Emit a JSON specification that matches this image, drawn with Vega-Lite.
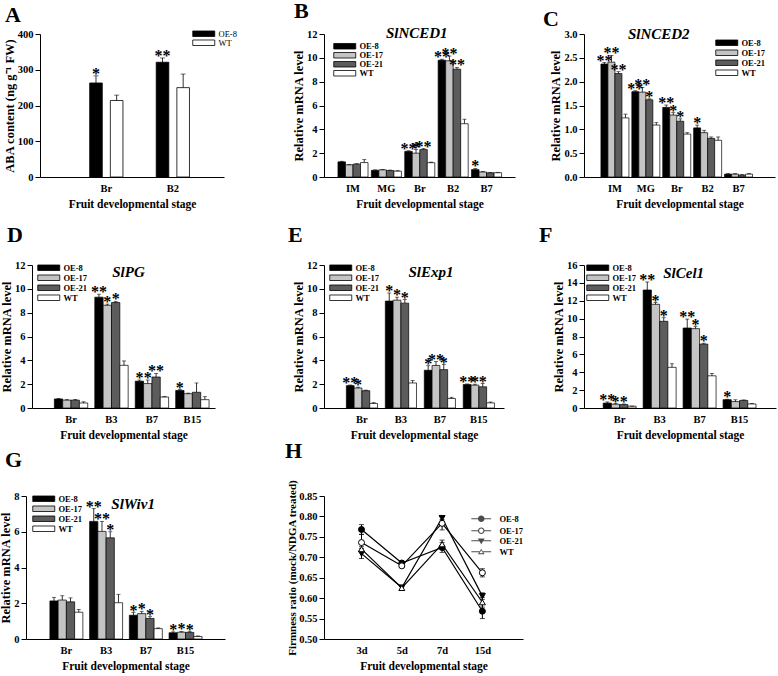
{
  "$schema": "https://vega.github.io/schema/vega-lite/v6.json",
  "padding": {"left": -1, "top": 0, "right": 2, "bottom": 2},
  "background": "white",
  "config": {
    "font": "Liberation Serif",
    "view": {"stroke": null},
    "axis": {"domainColor": "black", "tickColor": "black", "labelColor": "black", "titleColor": "black", "labelFont": "Liberation Serif", "titleFont": "Liberation Serif", "labelFontWeight": "bold", "titleFontWeight": "bold", "labelFontSize": 10.5, "titleFontSize": 12.5, "grid": false, "domainWidth": 1, "tickWidth": 1, "labelOverlap": false},
    "axisX": {"ticks": false, "labelAngle": 0, "labelPadding": 6, "titlePadding": 5, "titleFontSize": 11.5},
    "axisY": {"tickSize": 5, "labelPadding": 2, "titlePadding": 1, "labelOverlap": false, "tickCount": 20},
    "title": {"font": "Liberation Serif", "fontSize": 22, "fontWeight": "bold", "anchor": "start", "frame": "group", "color": "black", "baseline": "alphabetic"},
    "legend": {"orient": "none", "labelFont": "Liberation Serif", "labelFontSize": 8.5, "labelFontWeight": "bold", "labelColor": "black", "padding": 0, "rowPadding": 0, "symbolStrokeColor": "black", "symbolStrokeWidth": 0.8}
  },
  "datasets": {
    "A": [
      {"stage": "Br", "line": "OE-8", "value": 263, "hi": 283, "sig": "*"},
      {"stage": "Br", "line": "WT", "value": 214, "hi": 229, "sig": ""},
      {"stage": "B2", "line": "OE-8", "value": 321, "hi": 333, "sig": "**"},
      {"stage": "B2", "line": "WT", "value": 250, "hi": 288, "sig": ""}
    ],
    "B": [
      {"stage": "IM", "line": "OE-8", "value": 1.27, "hi": 1.32, "sig": ""},
      {"stage": "IM", "line": "OE-17", "value": 1.02, "hi": 1.06, "sig": ""},
      {"stage": "IM", "line": "OE-21", "value": 1.08, "hi": 1.12, "sig": ""},
      {"stage": "IM", "line": "WT", "value": 1.21, "hi": 1.46, "sig": ""},
      {"stage": "MG", "line": "OE-8", "value": 0.56, "hi": 0.6, "sig": ""},
      {"stage": "MG", "line": "OE-17", "value": 0.6, "hi": 0.64, "sig": ""},
      {"stage": "MG", "line": "OE-21", "value": 0.54, "hi": 0.58, "sig": ""},
      {"stage": "MG", "line": "WT", "value": 0.49, "hi": 0.53, "sig": ""},
      {"stage": "Br", "line": "OE-8", "value": 2.15, "hi": 2.2, "sig": "**"},
      {"stage": "Br", "line": "OE-17", "value": 2.0, "hi": 2.3, "sig": "*"},
      {"stage": "Br", "line": "OE-21", "value": 2.3, "hi": 2.38, "sig": "**"},
      {"stage": "Br", "line": "WT", "value": 1.2, "hi": 1.25, "sig": ""},
      {"stage": "B2", "line": "OE-8", "value": 9.8, "hi": 9.88, "sig": "**"},
      {"stage": "B2", "line": "OE-17", "value": 9.75, "hi": 10.15, "sig": "**"},
      {"stage": "B2", "line": "OE-21", "value": 9.05, "hi": 9.2, "sig": "**"},
      {"stage": "B2", "line": "WT", "value": 4.47, "hi": 4.85, "sig": ""},
      {"stage": "B7", "line": "OE-8", "value": 0.62, "hi": 0.72, "sig": "*"},
      {"stage": "B7", "line": "OE-17", "value": 0.42, "hi": 0.46, "sig": ""},
      {"stage": "B7", "line": "OE-21", "value": 0.35, "hi": 0.38, "sig": ""},
      {"stage": "B7", "line": "WT", "value": 0.36, "hi": 0.39, "sig": ""}
    ],
    "C": [
      {"stage": "IM", "line": "OE-8", "value": 2.37, "hi": 2.4, "sig": "**"},
      {"stage": "IM", "line": "OE-17", "value": 2.41, "hi": 2.55, "sig": "**"},
      {"stage": "IM", "line": "OE-21", "value": 2.17, "hi": 2.21, "sig": "**"},
      {"stage": "IM", "line": "WT", "value": 1.24, "hi": 1.32, "sig": ""},
      {"stage": "MG", "line": "OE-8", "value": 1.79, "hi": 1.81, "sig": "**"},
      {"stage": "MG", "line": "OE-17", "value": 1.78, "hi": 1.88, "sig": "**"},
      {"stage": "MG", "line": "OE-21", "value": 1.62, "hi": 1.64, "sig": "*"},
      {"stage": "MG", "line": "WT", "value": 1.09, "hi": 1.14, "sig": ""},
      {"stage": "Br", "line": "OE-8", "value": 1.46, "hi": 1.51, "sig": "**"},
      {"stage": "Br", "line": "OE-17", "value": 1.3, "hi": 1.35, "sig": "*"},
      {"stage": "Br", "line": "OE-21", "value": 1.17, "hi": 1.22, "sig": "*"},
      {"stage": "Br", "line": "WT", "value": 0.9, "hi": 0.93, "sig": ""},
      {"stage": "B2", "line": "OE-8", "value": 1.03, "hi": 1.09, "sig": "*"},
      {"stage": "B2", "line": "OE-17", "value": 0.93, "hi": 0.98, "sig": ""},
      {"stage": "B2", "line": "OE-21", "value": 0.81, "hi": 0.84, "sig": ""},
      {"stage": "B2", "line": "WT", "value": 0.77, "hi": 0.84, "sig": ""},
      {"stage": "B7", "line": "OE-8", "value": 0.06, "hi": 0.07, "sig": ""},
      {"stage": "B7", "line": "OE-17", "value": 0.06, "hi": 0.07, "sig": ""},
      {"stage": "B7", "line": "OE-21", "value": 0.04, "hi": 0.05, "sig": ""},
      {"stage": "B7", "line": "WT", "value": 0.06, "hi": 0.07, "sig": ""}
    ],
    "D": [
      {"stage": "Br", "line": "OE-8", "value": 0.76, "hi": 0.8, "sig": ""},
      {"stage": "Br", "line": "OE-17", "value": 0.66, "hi": 0.7, "sig": ""},
      {"stage": "Br", "line": "OE-21", "value": 0.66, "hi": 0.72, "sig": ""},
      {"stage": "Br", "line": "WT", "value": 0.42, "hi": 0.52, "sig": ""},
      {"stage": "B3", "line": "OE-8", "value": 9.3, "hi": 9.55, "sig": "**"},
      {"stage": "B3", "line": "OE-17", "value": 8.62, "hi": 8.72, "sig": "*"},
      {"stage": "B3", "line": "OE-21", "value": 8.85, "hi": 8.95, "sig": "*"},
      {"stage": "B3", "line": "WT", "value": 3.58, "hi": 3.95, "sig": ""},
      {"stage": "B7", "line": "OE-8", "value": 2.25, "hi": 2.35, "sig": "*"},
      {"stage": "B7", "line": "OE-17", "value": 2.05, "hi": 2.35, "sig": "*"},
      {"stage": "B7", "line": "OE-21", "value": 2.6, "hi": 2.9, "sig": "**"},
      {"stage": "B7", "line": "WT", "value": 0.92, "hi": 0.96, "sig": ""},
      {"stage": "B15", "line": "OE-8", "value": 1.47, "hi": 1.55, "sig": "*"},
      {"stage": "B15", "line": "OE-17", "value": 1.2, "hi": 1.25, "sig": ""},
      {"stage": "B15", "line": "OE-21", "value": 1.32, "hi": 2.1, "sig": ""},
      {"stage": "B15", "line": "WT", "value": 0.7, "hi": 0.95, "sig": ""}
    ],
    "E": [
      {"stage": "Br", "line": "OE-8", "value": 1.88, "hi": 1.93, "sig": "**"},
      {"stage": "Br", "line": "OE-17", "value": 1.68, "hi": 1.75, "sig": "*"},
      {"stage": "Br", "line": "OE-21", "value": 1.45, "hi": 1.5, "sig": ""},
      {"stage": "Br", "line": "WT", "value": 0.38, "hi": 0.45, "sig": ""},
      {"stage": "B3", "line": "OE-8", "value": 8.97, "hi": 9.65, "sig": "*"},
      {"stage": "B3", "line": "OE-17", "value": 9.05, "hi": 9.3, "sig": "*"},
      {"stage": "B3", "line": "OE-21", "value": 8.8, "hi": 9.1, "sig": "*"},
      {"stage": "B3", "line": "WT", "value": 2.1, "hi": 2.3, "sig": ""},
      {"stage": "B7", "line": "OE-8", "value": 3.17, "hi": 3.55, "sig": "*"},
      {"stage": "B7", "line": "OE-17", "value": 3.57, "hi": 3.9, "sig": "**"},
      {"stage": "B7", "line": "OE-21", "value": 3.22, "hi": 3.65, "sig": "*"},
      {"stage": "B7", "line": "WT", "value": 0.8, "hi": 0.9, "sig": ""},
      {"stage": "B15", "line": "OE-8", "value": 1.97, "hi": 2.02, "sig": "**"},
      {"stage": "B15", "line": "OE-17", "value": 1.92, "hi": 2.0, "sig": "*"},
      {"stage": "B15", "line": "OE-21", "value": 1.78, "hi": 2.05, "sig": "*"},
      {"stage": "B15", "line": "WT", "value": 0.43, "hi": 0.5, "sig": ""}
    ],
    "F": [
      {"stage": "Br", "line": "OE-8", "value": 0.55, "hi": 0.68, "sig": "**"},
      {"stage": "Br", "line": "OE-17", "value": 0.42, "hi": 0.5, "sig": "*"},
      {"stage": "Br", "line": "OE-21", "value": 0.38, "hi": 0.45, "sig": "*"},
      {"stage": "Br", "line": "WT", "value": 0.2, "hi": 0.22, "sig": ""},
      {"stage": "B3", "line": "OE-8", "value": 13.2, "hi": 14.1, "sig": "**"},
      {"stage": "B3", "line": "OE-17", "value": 11.6, "hi": 11.8, "sig": "*"},
      {"stage": "B3", "line": "OE-21", "value": 9.7, "hi": 10.1, "sig": "*"},
      {"stage": "B3", "line": "WT", "value": 4.55, "hi": 4.95, "sig": ""},
      {"stage": "B7", "line": "OE-8", "value": 8.95, "hi": 9.95, "sig": "**"},
      {"stage": "B7", "line": "OE-17", "value": 8.88, "hi": 9.1, "sig": "*"},
      {"stage": "B7", "line": "OE-21", "value": 7.15, "hi": 7.25, "sig": "*"},
      {"stage": "B7", "line": "WT", "value": 3.6, "hi": 3.85, "sig": ""},
      {"stage": "B15", "line": "OE-8", "value": 0.93, "hi": 0.98, "sig": "*"},
      {"stage": "B15", "line": "OE-17", "value": 0.72, "hi": 0.92, "sig": ""},
      {"stage": "B15", "line": "OE-21", "value": 0.85, "hi": 0.9, "sig": ""},
      {"stage": "B15", "line": "WT", "value": 0.45, "hi": 0.5, "sig": ""}
    ],
    "G": [
      {"stage": "Br", "line": "OE-8", "value": 2.13, "hi": 2.33, "sig": ""},
      {"stage": "Br", "line": "OE-17", "value": 2.18, "hi": 2.42, "sig": ""},
      {"stage": "Br", "line": "OE-21", "value": 2.08, "hi": 2.3, "sig": ""},
      {"stage": "Br", "line": "WT", "value": 1.5, "hi": 1.65, "sig": ""},
      {"stage": "B3", "line": "OE-8", "value": 6.58, "hi": 7.3, "sig": "**"},
      {"stage": "B3", "line": "OE-17", "value": 6.02, "hi": 6.58, "sig": "**"},
      {"stage": "B3", "line": "OE-21", "value": 5.66, "hi": 6.0, "sig": "*"},
      {"stage": "B3", "line": "WT", "value": 2.03, "hi": 2.5, "sig": ""},
      {"stage": "B7", "line": "OE-8", "value": 1.33, "hi": 1.48, "sig": "*"},
      {"stage": "B7", "line": "OE-17", "value": 1.42, "hi": 1.55, "sig": "*"},
      {"stage": "B7", "line": "OE-21", "value": 1.15, "hi": 1.25, "sig": "*"},
      {"stage": "B7", "line": "WT", "value": 0.58, "hi": 0.62, "sig": ""},
      {"stage": "B15", "line": "OE-8", "value": 0.35, "hi": 0.4, "sig": "*"},
      {"stage": "B15", "line": "OE-17", "value": 0.38, "hi": 0.42, "sig": "*"},
      {"stage": "B15", "line": "OE-21", "value": 0.37, "hi": 0.41, "sig": "*"},
      {"stage": "B15", "line": "WT", "value": 0.14, "hi": 0.17, "sig": ""}
    ],
    "H": [
      {"t": "3d", "line": "OE-8", "value": 0.768, "lo": 0.756, "hi": 0.78},
      {"t": "5d", "line": "OE-8", "value": 0.686, "lo": 0.682, "hi": 0.69},
      {"t": "7d", "line": "OE-8", "value": 0.724, "lo": 0.712, "hi": 0.736},
      {"t": "15d", "line": "OE-8", "value": 0.568, "lo": 0.55, "hi": 0.586},
      {"t": "3d", "line": "OE-17", "value": 0.736, "lo": 0.716, "hi": 0.756},
      {"t": "5d", "line": "OE-17", "value": 0.679, "lo": 0.675, "hi": 0.683},
      {"t": "7d", "line": "OE-17", "value": 0.783, "lo": 0.767, "hi": 0.799},
      {"t": "15d", "line": "OE-17", "value": 0.662, "lo": 0.652, "hi": 0.672},
      {"t": "3d", "line": "OE-21", "value": 0.709, "lo": 0.697, "hi": 0.721},
      {"t": "5d", "line": "OE-21", "value": 0.626, "lo": 0.621, "hi": 0.631},
      {"t": "7d", "line": "OE-21", "value": 0.796, "lo": 0.792, "hi": 0.8},
      {"t": "15d", "line": "OE-21", "value": 0.605, "lo": 0.597, "hi": 0.613},
      {"t": "3d", "line": "WT", "value": 0.72, "lo": 0.714, "hi": 0.726},
      {"t": "5d", "line": "WT", "value": 0.625, "lo": 0.62, "hi": 0.63},
      {"t": "7d", "line": "WT", "value": 0.732, "lo": 0.722, "hi": 0.742},
      {"t": "15d", "line": "WT", "value": 0.59, "lo": 0.578, "hi": 0.602}
    ]
  },
  "resolve": {
    "scale": {"fill": "independent", "shape": "independent", "xOffset": "independent"},
    "legend": {"fill": "independent", "shape": "independent"}
  },
  "columns": 3,
  "align": "none",
  "bounds": "flush",
  "spacing": {"row": 88, "column": 60},
  "concat": [
    {
      "title": {"text": "A", "dx": -21, "offset": 2},
      "width": 235, "height": 143,
      "data": {"name": "A"},
      "layer": [
        {"mark": {"type": "bar", "stroke": "black", "strokeWidth": 0.8},
         "encoding": {
           "x": {"field": "stage", "type": "nominal", "title": "Fruit developmental stage", "scale": {"type": "band", "domain": ["Br", "B2"], "range": [14, 198], "paddingInner": 0.5, "paddingOuter": 0.633, "align": 0.59}},
           "xOffset": {"field": "line", "type": "nominal", "scale": {"domain": ["OE-8", "WT"], "paddingInner": 0.39, "paddingOuter": 0}},
           "y": {"field": "value", "type": "quantitative", "title": "ABA content (ng g⁻¹ FW)", "scale": {"domain": [0, 400], "nice": false}, "axis": {"values": [0, 100, 200, 300, 400], "tickCount": 20, "format": "d", "offset": -14, "labelOverlap": false}},
           "fill": {"field": "line", "type": "nominal", "scale": {"domain": ["OE-8", "WT"], "range": ["#000000", "#ffffff"]}, "legend": {"title": null, "legendX": 166, "legendY": -4.5, "rowPadding": -2, "labelFontWeight": "normal", "symbolType": "M-1,-0.786H5.286V0.786H-1Z", "symbolSize": 49, "labelOffset": 18, "symbolStrokeColor": "black"}}
         }},
        {"mark": {"type": "rule", "color": "black", "strokeWidth": 0.8},
         "encoding": {
           "x": {"field": "stage", "type": "nominal", "title": "Fruit developmental stage"},
           "xOffset": {"field": "line", "type": "nominal"},
           "y": {"field": "value", "type": "quantitative", "title": "ABA content (ng g⁻¹ FW)"},
           "y2": {"field": "hi"}
         }},
        {"mark": {"type": "tick", "color": "black", "thickness": 0.8, "size": 5},
         "encoding": {
           "x": {"field": "stage", "type": "nominal", "title": "Fruit developmental stage"},
           "xOffset": {"field": "line", "type": "nominal"},
           "y": {"field": "hi", "type": "quantitative", "title": "ABA content (ng g⁻¹ FW)"}
         }},
        {"mark": {"type": "text", "fontSize": 16, "fontWeight": "bold", "baseline": "alphabetic", "dy": 3, "color": "black"},
         "encoding": {
           "x": {"field": "stage", "type": "nominal", "title": "Fruit developmental stage"},
           "xOffset": {"field": "line", "type": "nominal"},
           "y": {"field": "hi", "type": "quantitative", "title": "ABA content (ng g⁻¹ FW)"},
           "text": {"field": "sig"}
         }}
      ]
    },
    {
      "title": {"text": "B", "dx": -30, "offset": 3},
      "width": 197, "height": 143,
      "data": {"name": "B"},
      "layer": [
        {"mark": {"type": "bar", "stroke": "black", "strokeWidth": 0.7},
         "encoding": {
           "x": {"field": "stage", "type": "nominal", "title": "Fruit developmental stage", "scale": {"type": "band", "domain": ["IM", "MG", "Br", "B2", "B7"], "range": [0, 191], "paddingInner": 0.1, "paddingOuter": 0.41, "align": 0.51}},
           "xOffset": {"field": "line", "type": "nominal", "scale": {"domain": ["OE-8", "OE-17", "OE-21", "WT"], "paddingInner": 0, "paddingOuter": 0}},
           "y": {"field": "value", "type": "quantitative", "title": "Relative mRNA level", "scale": {"domain": [0, 12], "nice": false}, "axis": {"values": [0, 2, 4, 6, 8, 10, 12], "tickCount": 20, "format": "d", "labelOverlap": false}},
           "fill": {"field": "line", "type": "nominal", "scale": {"domain": ["OE-8", "OE-17", "OE-21", "WT"], "range": ["#000000", "#c4c4c4", "#5c5c5c", "#ffffff"]}, "legend": {"title": null, "legendX": 9, "legendY": 8, "rowPadding": -2.5, "symbolType": "M-1,-0.786H5.286V0.786H-1Z", "symbolSize": 49, "labelOffset": 18, "symbolStrokeColor": "black"}}
         }},
        {"mark": {"type": "rule", "color": "black", "strokeWidth": 0.8},
         "encoding": {
           "x": {"field": "stage", "type": "nominal", "title": "Fruit developmental stage"},
           "xOffset": {"field": "line", "type": "nominal"},
           "y": {"field": "value", "type": "quantitative", "title": "Relative mRNA level"},
           "y2": {"field": "hi"}
         }},
        {"mark": {"type": "tick", "color": "black", "thickness": 0.8, "size": 4},
         "encoding": {
           "x": {"field": "stage", "type": "nominal", "title": "Fruit developmental stage"},
           "xOffset": {"field": "line", "type": "nominal"},
           "y": {"field": "hi", "type": "quantitative", "title": "Relative mRNA level"}
         }},
        {"mark": {"type": "text", "fontSize": 16, "fontWeight": "bold", "baseline": "alphabetic", "dy": 3, "color": "black"},
         "encoding": {
           "x": {"field": "stage", "type": "nominal", "title": "Fruit developmental stage"},
           "xOffset": {"field": "line", "type": "nominal"},
           "y": {"field": "hi", "type": "quantitative", "title": "Relative mRNA level"},
           "text": {"field": "sig"}
         }},
        {"data": {"values": [{"gene": "SlNCED1"}]},
         "mark": {"type": "text", "fontSize": 15, "fontWeight": "bold", "fontStyle": "italic", "baseline": "alphabetic", "dx": -3, "dy": 4, "color": "black"},
         "encoding": {
           "x": {"datum": "Br", "type": "nominal", "title": "Fruit developmental stage"},
           "y": {"datum": 12, "type": "quantitative", "title": "Relative mRNA level"},
           "text": {"field": "gene"}
         }}
      ]
    },
    {
      "title": {"text": "C", "dx": -41, "offset": -4},
      "width": 191, "height": 143,
      "data": {"name": "C"},
      "layer": [
        {"mark": {"type": "bar", "stroke": "black", "strokeWidth": 0.7},
         "encoding": {
           "x": {"field": "stage", "type": "nominal", "title": "Fruit developmental stage", "scale": {"type": "band", "domain": ["IM", "MG", "Br", "B2", "B7"], "range": [0, 191], "paddingInner": 0.094, "paddingOuter": 0.637, "align": 0.43}},
           "xOffset": {"field": "line", "type": "nominal", "scale": {"domain": ["OE-8", "OE-17", "OE-21", "WT"], "paddingInner": 0, "paddingOuter": 0}},
           "y": {"field": "value", "type": "quantitative", "title": "Relative mRNA level", "scale": {"domain": [0, 3], "nice": false}, "axis": {"values": [0, 0.5, 1, 1.5, 2, 2.5, 3], "tickCount": 20, "format": ".1f", "labelOverlap": false}},
           "fill": {"field": "line", "type": "nominal", "scale": {"domain": ["OE-8", "OE-17", "OE-21", "WT"], "range": ["#000000", "#c4c4c4", "#5c5c5c", "#ffffff"]}, "legend": {"title": null, "legendX": 131, "legendY": 4.5, "rowPadding": 0, "symbolType": "M-1,-0.786H5.286V0.786H-1Z", "symbolSize": 49, "labelOffset": 18, "symbolStrokeColor": "black"}}
         }},
        {"mark": {"type": "rule", "color": "black", "strokeWidth": 0.8},
         "encoding": {
           "x": {"field": "stage", "type": "nominal", "title": "Fruit developmental stage"},
           "xOffset": {"field": "line", "type": "nominal"},
           "y": {"field": "value", "type": "quantitative", "title": "Relative mRNA level"},
           "y2": {"field": "hi"}
         }},
        {"mark": {"type": "tick", "color": "black", "thickness": 0.8, "size": 4},
         "encoding": {
           "x": {"field": "stage", "type": "nominal", "title": "Fruit developmental stage"},
           "xOffset": {"field": "line", "type": "nominal"},
           "y": {"field": "hi", "type": "quantitative", "title": "Relative mRNA level"}
         }},
        {"mark": {"type": "text", "fontSize": 16, "fontWeight": "bold", "baseline": "alphabetic", "dy": 3, "color": "black"},
         "encoding": {
           "x": {"field": "stage", "type": "nominal", "title": "Fruit developmental stage"},
           "xOffset": {"field": "line", "type": "nominal"},
           "y": {"field": "hi", "type": "quantitative", "title": "Relative mRNA level"},
           "text": {"field": "sig"}
         }},
        {"data": {"values": [{"gene": "SlNCED2"}]},
         "mark": {"type": "text", "fontSize": 15, "fontWeight": "bold", "fontStyle": "italic", "baseline": "alphabetic", "dx": -18, "dy": 5, "color": "black"},
         "encoding": {
           "x": {"datum": "Br", "type": "nominal", "title": "Fruit developmental stage"},
           "y": {"datum": 3, "type": "quantitative", "title": "Relative mRNA level"},
           "text": {"field": "gene"}
         }}
      ]
    },
    {
      "title": {"text": "D", "dx": -19, "offset": 13},
      "width": 232, "height": 143,
      "data": {"name": "D"},
      "layer": [
        {"mark": {"type": "bar", "stroke": "black", "strokeWidth": 0.7},
         "encoding": {
           "x": {"field": "stage", "type": "nominal", "title": "Fruit developmental stage", "scale": {"type": "band", "domain": ["Br", "B3", "B7", "B15"], "range": [6, 189], "paddingInner": 0.175, "paddingOuter": 0.35, "align": 0.79}},
           "xOffset": {"field": "line", "type": "nominal", "scale": {"domain": ["OE-8", "OE-17", "OE-21", "WT"], "paddingInner": 0, "paddingOuter": 0}},
           "y": {"field": "value", "type": "quantitative", "title": "Relative mRNA level", "scale": {"domain": [0, 12], "nice": false}, "axis": {"values": [0, 2, 4, 6, 8, 10, 12], "tickCount": 20, "format": "d", "offset": -6, "labelOverlap": false}},
           "fill": {"field": "line", "type": "nominal", "scale": {"domain": ["OE-8", "OE-17", "OE-21", "WT"], "range": ["#000000", "#c4c4c4", "#5c5c5c", "#ffffff"]}, "legend": {"title": null, "legendX": 11, "legendY": -1.5, "rowPadding": 0, "symbolType": "M-1,-0.786H5.286V0.786H-1Z", "symbolSize": 49, "labelOffset": 18, "symbolStrokeColor": "black"}}
         }},
        {"mark": {"type": "rule", "color": "black", "strokeWidth": 0.8},
         "encoding": {
           "x": {"field": "stage", "type": "nominal", "title": "Fruit developmental stage"},
           "xOffset": {"field": "line", "type": "nominal"},
           "y": {"field": "value", "type": "quantitative", "title": "Relative mRNA level"},
           "y2": {"field": "hi"}
         }},
        {"mark": {"type": "tick", "color": "black", "thickness": 0.8, "size": 4},
         "encoding": {
           "x": {"field": "stage", "type": "nominal", "title": "Fruit developmental stage"},
           "xOffset": {"field": "line", "type": "nominal"},
           "y": {"field": "hi", "type": "quantitative", "title": "Relative mRNA level"}
         }},
        {"mark": {"type": "text", "fontSize": 16, "fontWeight": "bold", "baseline": "alphabetic", "dy": 3, "color": "black"},
         "encoding": {
           "x": {"field": "stage", "type": "nominal", "title": "Fruit developmental stage"},
           "xOffset": {"field": "line", "type": "nominal"},
           "y": {"field": "hi", "type": "quantitative", "title": "Relative mRNA level"},
           "text": {"field": "sig"}
         }},
        {"data": {"values": [{"gene": "SlPG"}]},
         "mark": {"type": "text", "fontSize": 15, "fontWeight": "bold", "fontStyle": "italic", "baseline": "alphabetic", "dx": 17, "dy": 12, "color": "black"},
         "encoding": {
           "x": {"datum": "B3", "type": "nominal", "title": "Fruit developmental stage"},
           "y": {"datum": 12, "type": "quantitative", "title": "Relative mRNA level"},
           "text": {"field": "gene"}
         }}
      ]
    },
    {
      "title": {"text": "E", "dx": -36, "offset": 13},
      "width": 200, "height": 143,
      "data": {"name": "E"},
      "layer": [
        {"mark": {"type": "bar", "stroke": "black", "strokeWidth": 0.7},
         "encoding": {
           "x": {"field": "stage", "type": "nominal", "title": "Fruit developmental stage", "scale": {"type": "band", "domain": ["Br", "B3", "B7", "B15"], "range": [0, 180], "paddingInner": 0.2, "paddingOuter": 0.41, "align": 0.7}},
           "xOffset": {"field": "line", "type": "nominal", "scale": {"domain": ["OE-8", "OE-17", "OE-21", "WT"], "paddingInner": 0, "paddingOuter": 0}},
           "y": {"field": "value", "type": "quantitative", "title": "Relative mRNA level", "scale": {"domain": [0, 12], "nice": false}, "axis": {"values": [0, 2, 4, 6, 8, 10, 12], "tickCount": 20, "format": "d", "labelOverlap": false}},
           "fill": {"field": "line", "type": "nominal", "scale": {"domain": ["OE-8", "OE-17", "OE-21", "WT"], "range": ["#000000", "#c4c4c4", "#5c5c5c", "#ffffff"]}, "legend": {"title": null, "legendX": 5, "legendY": -1.5, "rowPadding": 0, "symbolType": "M-1,-0.786H5.286V0.786H-1Z", "symbolSize": 49, "labelOffset": 18, "symbolStrokeColor": "black"}}
         }},
        {"mark": {"type": "rule", "color": "black", "strokeWidth": 0.8},
         "encoding": {
           "x": {"field": "stage", "type": "nominal", "title": "Fruit developmental stage"},
           "xOffset": {"field": "line", "type": "nominal"},
           "y": {"field": "value", "type": "quantitative", "title": "Relative mRNA level"},
           "y2": {"field": "hi"}
         }},
        {"mark": {"type": "tick", "color": "black", "thickness": 0.8, "size": 4},
         "encoding": {
           "x": {"field": "stage", "type": "nominal", "title": "Fruit developmental stage"},
           "xOffset": {"field": "line", "type": "nominal"},
           "y": {"field": "hi", "type": "quantitative", "title": "Relative mRNA level"}
         }},
        {"mark": {"type": "text", "fontSize": 16, "fontWeight": "bold", "baseline": "alphabetic", "dy": 3, "color": "black"},
         "encoding": {
           "x": {"field": "stage", "type": "nominal", "title": "Fruit developmental stage"},
           "xOffset": {"field": "line", "type": "nominal"},
           "y": {"field": "hi", "type": "quantitative", "title": "Relative mRNA level"},
           "text": {"field": "sig"}
         }},
        {"data": {"values": [{"gene": "SlExp1"}]},
         "mark": {"type": "text", "fontSize": 15, "fontWeight": "bold", "fontStyle": "italic", "baseline": "alphabetic", "dx": 30, "dy": 12, "color": "black"},
         "encoding": {
           "x": {"datum": "B3", "type": "nominal", "title": "Fruit developmental stage"},
           "y": {"datum": 12, "type": "quantitative", "title": "Relative mRNA level"},
           "text": {"field": "gene"}
         }}
      ]
    },
    {
      "title": {"text": "F", "dx": -45, "offset": 13},
      "width": 192, "height": 143,
      "data": {"name": "F"},
      "layer": [
        {"mark": {"type": "bar", "stroke": "black", "strokeWidth": 0.7},
         "encoding": {
           "x": {"field": "stage", "type": "nominal", "title": "Fruit developmental stage", "scale": {"type": "band", "domain": ["Br", "B3", "B7", "B15"], "range": [0, 192], "paddingInner": 0.175, "paddingOuter": 0.49, "align": 0.49}},
           "xOffset": {"field": "line", "type": "nominal", "scale": {"domain": ["OE-8", "OE-17", "OE-21", "WT"], "paddingInner": 0, "paddingOuter": 0}},
           "y": {"field": "value", "type": "quantitative", "title": "Relative mRNA level", "scale": {"domain": [0, 16], "nice": false}, "axis": {"values": [0, 2, 4, 6, 8, 10, 12, 14, 16], "tickCount": 20, "format": "d", "labelOverlap": false}},
           "fill": {"field": "line", "type": "nominal", "scale": {"domain": ["OE-8", "OE-17", "OE-21", "WT"], "range": ["#000000", "#c4c4c4", "#5c5c5c", "#ffffff"]}, "legend": {"title": null, "legendX": 2, "legendY": -1.5, "rowPadding": 0, "symbolType": "M-1,-0.786H5.286V0.786H-1Z", "symbolSize": 49, "labelOffset": 18, "symbolStrokeColor": "black"}}
         }},
        {"mark": {"type": "rule", "color": "black", "strokeWidth": 0.8},
         "encoding": {
           "x": {"field": "stage", "type": "nominal", "title": "Fruit developmental stage"},
           "xOffset": {"field": "line", "type": "nominal"},
           "y": {"field": "value", "type": "quantitative", "title": "Relative mRNA level"},
           "y2": {"field": "hi"}
         }},
        {"mark": {"type": "tick", "color": "black", "thickness": 0.8, "size": 4},
         "encoding": {
           "x": {"field": "stage", "type": "nominal", "title": "Fruit developmental stage"},
           "xOffset": {"field": "line", "type": "nominal"},
           "y": {"field": "hi", "type": "quantitative", "title": "Relative mRNA level"}
         }},
        {"mark": {"type": "text", "fontSize": 16, "fontWeight": "bold", "baseline": "alphabetic", "dy": 3, "color": "black"},
         "encoding": {
           "x": {"field": "stage", "type": "nominal", "title": "Fruit developmental stage"},
           "xOffset": {"field": "line", "type": "nominal"},
           "y": {"field": "hi", "type": "quantitative", "title": "Relative mRNA level"},
           "text": {"field": "sig"}
         }},
        {"data": {"values": [{"gene": "SlCel1"}]},
         "mark": {"type": "text", "fontSize": 15, "fontWeight": "bold", "fontStyle": "italic", "baseline": "alphabetic", "dx": 24, "dy": 13, "color": "black"},
         "encoding": {
           "x": {"datum": "B3", "type": "nominal", "title": "Fruit developmental stage"},
           "y": {"datum": 16, "type": "quantitative", "title": "Relative mRNA level"},
           "text": {"field": "gene"}
         }}
      ]
    },
    {
      "title": {"text": "G", "dx": -21, "offset": 19},
      "width": 238, "height": 143,
      "data": {"name": "G"},
      "layer": [
        {"mark": {"type": "bar", "stroke": "black", "strokeWidth": 0.7},
         "encoding": {
           "x": {"field": "stage", "type": "nominal", "title": "Fruit developmental stage", "scale": {"type": "band", "domain": ["Br", "B3", "B7", "B15"], "range": [0, 199], "paddingInner": 0.17, "paddingOuter": 0.59, "align": 0.51}},
           "xOffset": {"field": "line", "type": "nominal", "scale": {"domain": ["OE-8", "OE-17", "OE-21", "WT"], "paddingInner": 0, "paddingOuter": 0}},
           "y": {"field": "value", "type": "quantitative", "title": "Relative mRNA level", "scale": {"domain": [0, 8], "nice": false}, "axis": {"values": [0, 2, 4, 6, 8], "tickCount": 20, "format": "d", "labelOverlap": false}},
           "fill": {"field": "line", "type": "nominal", "scale": {"domain": ["OE-8", "OE-17", "OE-21", "WT"], "range": ["#000000", "#c4c4c4", "#5c5c5c", "#ffffff"]}, "legend": {"title": null, "legendX": 6, "legendY": -1.5, "rowPadding": 0, "symbolType": "M-1,-0.786H5.286V0.786H-1Z", "symbolSize": 49, "labelOffset": 18, "symbolStrokeColor": "black"}}
         }},
        {"mark": {"type": "rule", "color": "black", "strokeWidth": 0.8},
         "encoding": {
           "x": {"field": "stage", "type": "nominal", "title": "Fruit developmental stage"},
           "xOffset": {"field": "line", "type": "nominal"},
           "y": {"field": "value", "type": "quantitative", "title": "Relative mRNA level"},
           "y2": {"field": "hi"}
         }},
        {"mark": {"type": "tick", "color": "black", "thickness": 0.8, "size": 4},
         "encoding": {
           "x": {"field": "stage", "type": "nominal", "title": "Fruit developmental stage"},
           "xOffset": {"field": "line", "type": "nominal"},
           "y": {"field": "hi", "type": "quantitative", "title": "Relative mRNA level"}
         }},
        {"mark": {"type": "text", "fontSize": 16, "fontWeight": "bold", "baseline": "alphabetic", "dy": 3, "color": "black"},
         "encoding": {
           "x": {"field": "stage", "type": "nominal", "title": "Fruit developmental stage"},
           "xOffset": {"field": "line", "type": "nominal"},
           "y": {"field": "hi", "type": "quantitative", "title": "Relative mRNA level"},
           "text": {"field": "sig"}
         }},
        {"data": {"values": [{"gene": "SlWiv1"}]},
         "mark": {"type": "text", "fontSize": 15, "fontWeight": "bold", "fontStyle": "italic", "baseline": "alphabetic", "dx": 27, "dy": 13, "color": "black"},
         "encoding": {
           "x": {"datum": "B3", "type": "nominal", "title": "Fruit developmental stage"},
           "y": {"datum": 8, "type": "quantitative", "title": "Relative mRNA level"},
           "text": {"field": "gene"}
         }}
      ]
    },
    {
      "title": {"text": "H", "dx": -39, "offset": 16},
      "width": 199, "height": 143,
      "data": {"name": "H"},
      "resolve": {"scale": {"shape": "independent"}, "legend": {"shape": "independent"}},
      "layer": [
        {"mark": {"type": "rule", "color": "black", "strokeWidth": 1},
         "encoding": {
           "x": {"field": "t", "type": "nominal", "title": "Fruit developmental stage", "scale": {"type": "point", "domain": ["3d", "5d", "7d", "15d"], "padding": 0.97, "align": 0.48}},
           "y": {"field": "lo", "type": "quantitative", "title": "Firmness ratio (mock/NDGA treated)", "scale": {"domain": [0.5, 0.85], "nice": false, "zero": false}, "axis": {"values": [0.5, 0.55, 0.6, 0.65, 0.7, 0.75, 0.8, 0.85], "tickCount": 20, "format": ".2f", "titleFontSize": 11, "labelOverlap": false}},
           "y2": {"field": "hi"}
         }},
        {"mark": {"type": "tick", "color": "black", "thickness": 1, "size": 5},
         "encoding": {
           "x": {"field": "t", "type": "nominal", "title": "Fruit developmental stage"},
           "y": {"field": "hi", "type": "quantitative", "title": "Firmness ratio (mock/NDGA treated)"}
         }},
        {"mark": {"type": "tick", "color": "black", "thickness": 1, "size": 5},
         "encoding": {
           "x": {"field": "t", "type": "nominal", "title": "Fruit developmental stage"},
           "y": {"field": "lo", "type": "quantitative", "title": "Firmness ratio (mock/NDGA treated)"}
         }},
        {"mark": {"type": "line", "color": "black", "strokeWidth": 1.2},
         "encoding": {
           "x": {"field": "t", "type": "nominal", "title": "Fruit developmental stage", "sort": ["3d", "5d", "7d", "15d"]},
           "y": {"field": "value", "type": "quantitative", "title": "Firmness ratio (mock/NDGA treated)"},
           "detail": {"field": "line", "type": "nominal"}
         }},
        {"mark": {"type": "point", "filled": false, "stroke": "black", "strokeWidth": 1, "size": 36, "opacity": 1},
         "encoding": {
           "x": {"field": "t", "type": "nominal", "title": "Fruit developmental stage"},
           "y": {"field": "value", "type": "quantitative", "title": "Firmness ratio (mock/NDGA treated)"},
           "shape": {"field": "line", "type": "nominal", "title": null, "scale": {"domain": ["OE-8", "OE-17", "OE-21", "WT"], "range": ["circle", "circle", "triangle-down", "triangle-up"]}, "legend": null},
           "fill": {"field": "line", "type": "nominal", "title": null, "scale": {"domain": ["OE-8", "OE-17", "OE-21", "WT"], "range": ["#000000", "#ffffff", "#000000", "#ffffff"]}, "legend": null}
         }},
        {"transform": [{"filter": "false"}],
         "mark": {"type": "point", "filled": true, "fill": "black", "stroke": "black", "strokeWidth": 1},
         "encoding": {
           "x": {"field": "t", "type": "nominal", "title": "Fruit developmental stage"},
           "y": {"field": "value", "type": "quantitative", "title": "Firmness ratio (mock/NDGA treated)"},
           "shape": {"field": "line", "type": "nominal", "title": null,
             "scale": {"domain": ["OE-8", "OE-17", "OE-21", "WT"],
               "range": [
                 "M-3.3,-0.17H3.3V0.17H-3.3ZM-1.1,0A1.1,1.1,0,1,1,1.1,0A1.1,1.1,0,1,1,-1.1,0Z",
                 "M-3.3,-0.17H-1.05V0.17H-3.3ZM1.05,-0.17H3.3V0.17H1.05ZM-1.1,0A1.1,1.1,0,1,1,1.1,0A1.1,1.1,0,1,1,-1.1,0ZM-0.72,0A0.72,0.72,0,1,0,0.72,0A0.72,0.72,0,1,0,-0.72,0Z",
                 "M-3.3,-0.17H3.3V0.17H-3.3ZM-1.15,-0.75L1.15,-0.75L0,1.2Z",
                 "M-3.3,-0.17H-0.6V0.17H-3.3ZM0.6,-0.17H3.3V0.17H0.6ZM-1.1,0.8L1.1,0.8L0,-1ZM-0.58,0.5L0,-0.48L0.58,0.5Z"
               ]},
             "legend": {"title": null, "legendX": 153, "legendY": 18.5, "rowPadding": 0, "symbolSize": 36, "labelOffset": 14, "symbolStrokeColor": "black", "symbolStrokeWidth": 1, "symbolFillColor": "black"}}
         }}
      ]
    }
  ]
}
